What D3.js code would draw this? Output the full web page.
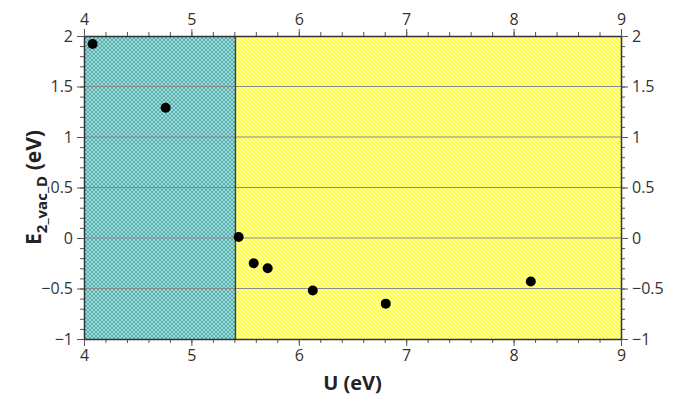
<!DOCTYPE html>
<html>
<head>
<meta charset="utf-8">
<script src="https://cdn.jsdelivr.net/npm/d3@7"></script>
<style>
  body { margin: 0; background: #fff; }
  text { font-family: "Open Sans", "Noto Sans", sans-serif; fill: #333; }
</style>
</head>
<body>
<div id="chart"></div>
<script>
// data
const uValues = [4.08, 4.76, 5.44, 5.58, 5.71, 6.13, 6.81, 8.16];
const eValues = [1.92, 1.29, 0.01, -0.25, -0.30, -0.52, -0.65, -0.43];
const regionEdges = [4, 5.41, 9];
const xTicks = [4, 5, 6, 7, 8, 9];
const yTicks = [-1, -0.5, 0, 0.5, 1, 1.5, 2];

const W = 682, H = 401;
const margin = { top: 36, right: 61, bottom: 62, left: 84 };
const width = W - margin.left - margin.right,
      height = H - margin.top - margin.bottom;

const svg = d3.select("#chart").append("svg")
  .attr("width", W).attr("height", H);

// hatch patterns
const defs = svg.append("defs");
function hatch(id, bg, fg) {
  const p = defs.append("pattern")
    .attr("id", id).attr("patternUnits", "userSpaceOnUse")
    .attr("width", 4).attr("height", 4);
  p.append("rect").attr("width", 4).attr("height", 4).attr("fill", bg);
  p.append("path").attr("d", "M0,0L4,4M4,0L0,4")
    .attr("stroke", fg).attr("stroke-width", 1);
}
hatch("teal", "#9cd9d9", "#5aafaf");
hatch("yellow", "#ffff30", "#ffffb8");

const g = svg.append("g").attr("transform", `translate(${margin.left},${margin.top})`);

const x = d3.scaleLinear().domain([4, 9]).range([0, width]);
const y = d3.scaleLinear().domain([-1, 2]).range([height, 0]);

// shaded regions
g.append("rect").attr("x", x(regionEdges[0])).attr("y", 0)
  .attr("width", x(regionEdges[1]) - x(regionEdges[0])).attr("height", height)
  .attr("fill", "url(#teal)");
g.append("rect").attr("x", x(regionEdges[1])).attr("y", 0)
  .attr("width", x(regionEdges[2]) - x(regionEdges[1])).attr("height", height)
  .attr("fill", "url(#yellow)");

// horizontal grid
g.selectAll(".grid").data(yTicks.slice(1, -1)).enter().append("line")
  .attr("x1", 0).attr("x2", width)
  .attr("y1", d => y(d)).attr("y2", d => y(d))
  .attr("stroke", "#8a8a8a").attr("stroke-width", 1);

// region boundary
g.append("line")
  .attr("x1", x(regionEdges[1])).attr("x2", x(regionEdges[1]))
  .attr("y1", 0).attr("y2", height)
  .attr("stroke", "#444").attr("stroke-width", 1.5);

// axes
const xMinor = d3.range(4, 9.001, 0.2);
const yMinor = d3.range(-1, 2.001, 0.1);

function styleAxis(sel) {
  sel.select(".domain").attr("stroke", "#333").attr("stroke-width", 1.5);
  sel.selectAll(".tick line").attr("stroke", "#555");
  sel.selectAll("text").attr("font-size", 16).style("fill", "#333")
    .attr("font-family", "'Open Sans', 'Noto Sans', sans-serif");
}
const fmt = d => d3.format("")(d).replace("-", "\u2212");

// minor ticks
function minor(s) {
  s.select(".domain").remove();
  s.selectAll("line").attr("stroke", "#555");
}
g.append("g").attr("transform", `translate(0,${height})`)
  .call(d3.axisBottom(x).tickValues(xMinor).tickSize(4).tickFormat("")).call(minor);
g.append("g")
  .call(d3.axisTop(x).tickValues(xMinor).tickSize(4).tickFormat("")).call(minor);
g.append("g")
  .call(d3.axisLeft(y).tickValues(yMinor).tickSize(4).tickFormat("")).call(minor);
g.append("g").attr("transform", `translate(${width},0)`)
  .call(d3.axisRight(y).tickValues(yMinor).tickSize(4).tickFormat("")).call(minor);

// major axes
g.append("g").attr("transform", `translate(0,${height})`)
  .call(d3.axisBottom(x).tickValues(xTicks).tickSize(7).tickSizeOuter(0).tickPadding(4).tickFormat(fmt))
  .call(styleAxis);
g.append("g")
  .call(d3.axisTop(x).tickValues(xTicks).tickSize(7).tickSizeOuter(0).tickPadding(4).tickFormat(fmt))
  .call(styleAxis);
g.append("g")
  .call(d3.axisLeft(y).tickValues(yTicks).tickSize(7).tickSizeOuter(0).tickPadding(4).tickFormat(fmt))
  .call(styleAxis);
g.append("g").attr("transform", `translate(${width},0)`)
  .call(d3.axisRight(y).tickValues(yTicks).tickSize(7).tickSizeOuter(0).tickPadding(4).tickFormat(fmt))
  .call(styleAxis);

// points
g.selectAll(".pt").data(uValues).enter().append("circle")
  .attr("cx", d => x(d)).attr("cy", (d, i) => y(eValues[i]))
  .attr("r", 5).attr("fill", "#000");

// axis titles
svg.append("text")
  .attr("x", margin.left + width / 2).attr("y", 390)
  .attr("text-anchor", "middle").attr("font-size", 20).attr("font-weight", "bold")
  .style("fill", "#222")
  .text("U (eV)");

const yt = svg.append("text")
  .attr("transform", `translate(41,${margin.top + height / 2}) rotate(-90)`)
  .attr("text-anchor", "middle").attr("font-size", 21).attr("font-weight", "bold")
  .style("fill", "#222");
yt.append("tspan").text("E");
yt.append("tspan").attr("font-size", 15).attr("dy", 6).text("2_vac_D");
yt.append("tspan").attr("dy", -6).text(" (eV)");
</script>
</body>
</html>
